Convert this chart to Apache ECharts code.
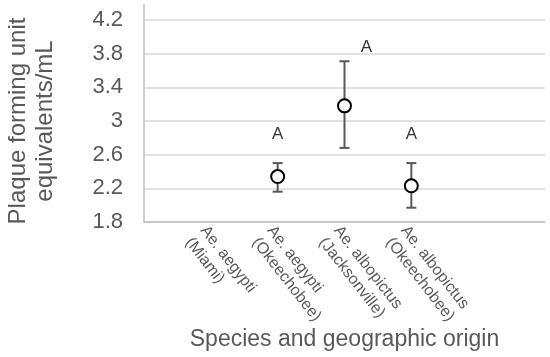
<!DOCTYPE html>
<html><head><meta charset="utf-8">
<script src="https://cdn.jsdelivr.net/npm/echarts@6/dist/echarts.min.js"></script>
<style>html,body{margin:0;padding:0;background:#fff}#c{width:550px;height:357px}</style>
</head><body><div id="c"></div>
<script>
const categories = ['', 'Ae. aegypti\n(Miami)', 'Ae. aegypti\n(Okeechobee)', 'Ae. albopictus\n(Jacksonville)', 'Ae. albopictus\n(Okeechobee)', '', ''];
const means = [null, null, 2.34, 3.18, 2.23, null, null];
const errLow = [null, null, 2.16, 2.68, 1.97, null, null];
const errHigh = [null, null, 2.50, 3.71, 2.50, null, null];
const letters = [null, null, 'A', 'A', 'A', null, null];
const letterY = [null, null, 2.84, 3.87, 2.84, null, null];
const letterShift = [0, 0, 0, 22, 0, 0, 0];
const yTicks = [1.8, 2.2, 2.6, 3, 3.4, 3.8, 4.2];

const font = 'Liberation Sans, Arial, sans-serif';
const grey = '#595959';
const chart = echarts.init(document.getElementById('c'));

const errData = categories.map((c, i) => errLow[i] == null ? null : [i, errLow[i], errHigh[i]]).filter(d => d);
const meanData = categories.map((c, i) => means[i] == null ? null : [i, means[i]]).filter(d => d);
const letterData = categories.map((c, i) => letters[i] == null ? null : {value: [i, letterY[i]], label: {formatter: letters[i], offset: [letterShift[i], 0]}}).filter(d => d);

chart.setOption({
  animation: false,
  grid: {left: 144, right: 5, top: 20, bottom: 135, outerBoundsMode: 'none', containLabel: false},
  xAxis: {
    type: 'category', data: categories, boundaryGap: false,
    axisLine: {lineStyle: {color: '#bfbfbf', width: 1.5}},
    axisTick: {show: false},
    axisLabel: {interval: 0, rotate: -52, margin: 0, color: grey, fontFamily: font, fontSize: 16, lineHeight: 19, verticalAlign: 'top'},
    name: 'Species and geographic origin', nameLocation: 'middle', nameGap: 106, nameMoveOverlap: false,
    nameTextStyle: {color: grey, fontFamily: font, fontSize: 23}
  },
  yAxis: {
    type: 'value', min: 1.8, max: 4.2, interval: 0.4,
    axisLine: {show: true, lineStyle: {color: '#bfbfbf', width: 1.5}},
    axisTick: {show: false},
    splitLine: {lineStyle: {color: '#d9d9d9', width: 1.5}},
    axisLabel: {margin: 21, color: grey, fontFamily: font, fontSize: 22,
      formatter: v => { const t = yTicks.find(x => Math.abs(x - v) < 1e-6); return t == null ? '' : String(t); }},
    name: 'Plaque forming unit\nequivalents/mL', nameLocation: 'middle', nameGap: 85,
    nameTextStyle: {color: grey, fontFamily: font, fontSize: 24, lineHeight: 27}
  },
  graphic: [{type: 'line', shape: {x1: 144, y1: 4, x2: 144, y2: 20}, style: {stroke: '#bfbfbf', lineWidth: 1.5}}],
  series: [
    {
      type: 'custom', data: errData, z: 3,
      renderItem: (params, api) => {
        const x = api.coord([api.value(0), api.value(1)])[0];
        const lo = api.coord([api.value(0), api.value(1)])[1];
        const hi = api.coord([api.value(0), api.value(2)])[1];
        const w = 5;
        const st = {stroke: grey, lineWidth: 2};
        return {type: 'group', children: [
          {type: 'line', shape: {x1: x, y1: lo, x2: x, y2: hi}, style: st},
          {type: 'line', shape: {x1: x - w, y1: lo, x2: x + w, y2: lo}, style: st},
          {type: 'line', shape: {x1: x - w, y1: hi, x2: x + w, y2: hi}, style: st}
        ]};
      }
    },
    {
      type: 'scatter', data: meanData, symbol: 'circle', symbolSize: 13, z: 5,
      itemStyle: {color: '#fff', borderColor: '#000', borderWidth: 2, opacity: 1}
    },
    {
      type: 'scatter', data: letterData, symbolSize: 0, z: 6,
      label: {show: true, position: 'inside', color: '#000', fontFamily: font, fontSize: 17}
    }
  ]
});
</script></body></html>
